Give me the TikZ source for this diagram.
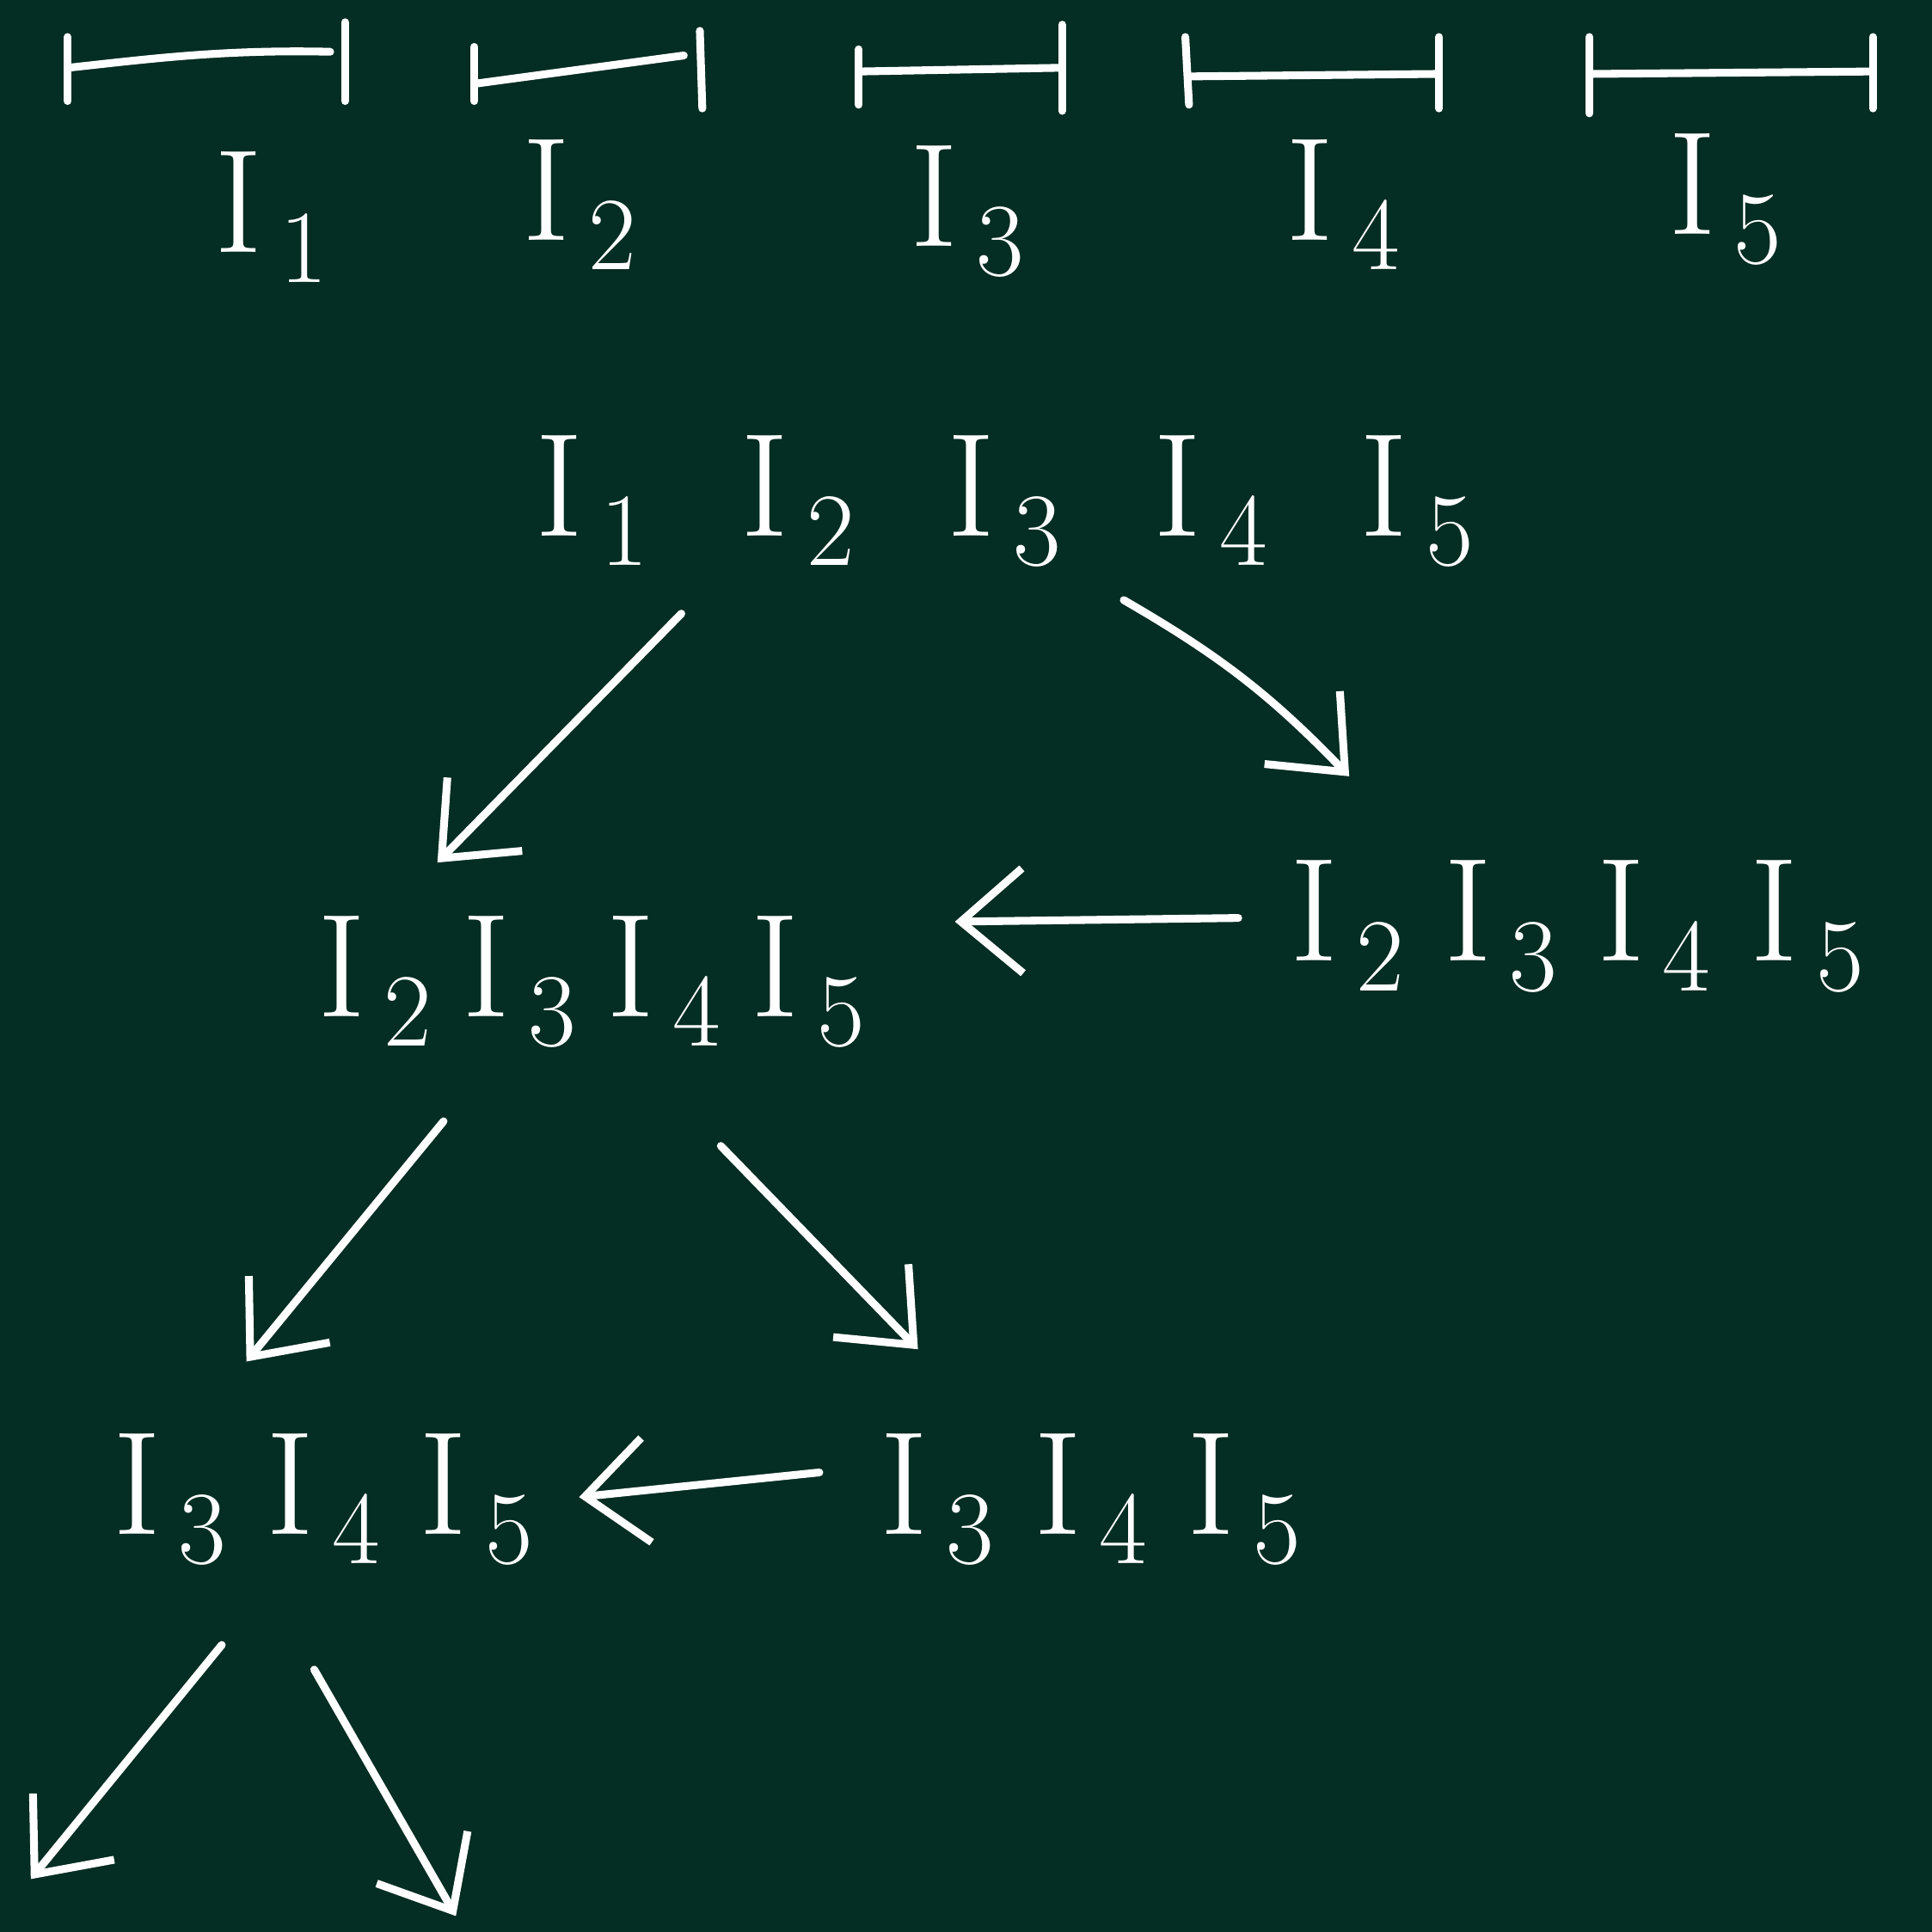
\documentclass[tikz,border=0pt]{standalone}
\usepackage{fontspec}
\usetikzlibrary{arrows.meta}
\definecolor{board}{RGB}{4,45,35}
\newcommand{\Iv}[1]{I\kern0.12em\raisebox{-0.2em}{\fontsize{24}{28}\selectfont #1}}
\newcommand{\gw}{\hspace{0.75cm}}
\newcommand{\gn}{\hspace{0.32cm}}
\begin{document}
\begin{tikzpicture}[x=0.01cm,y=-0.01cm,
  chalk/.style={draw=white,line width=1.8pt,line cap=round,line join=round},
  arr/.style={chalk,-{Straight Barb[length=0.5cm,width=0.85cm,line width=1.8pt]}},
  lbl/.style={text=white,inner sep=0pt,anchor=base,font=\fontsize{34}{40}\selectfont}]
\fill[board] (0,0) rectangle (1568,1568);
\useasboundingbox (0,0) rectangle (1568,1568);
% intervals
\draw[chalk] (55,30) -- (55,82);
\draw[chalk] (55,55) .. controls (120,48) and (180,40) .. (268,42);
\draw[chalk] (280,18) -- (280,82);
\draw[chalk] (385,38) -- (385,82);
\draw[chalk] (385,68) -- (555,45);
\draw[chalk] (568,25) -- (570,88);
\draw[chalk] (697,40) -- (697,85);
\draw[chalk] (697,58) -- (860,55);
\draw[chalk] (862,20) -- (862,90);
\draw[chalk] (962,30) -- (965,85);
\draw[chalk] (965,62) -- (1165,60);
\draw[chalk] (1168,30) -- (1168,88);
\draw[chalk] (1290,30) -- (1290,92);
\draw[chalk] (1290,60) -- (1518,58);
\draw[chalk] (1520,30) -- (1520,88);
% interval labels
\node[lbl] (i1) at (220,205) {\Iv1};
\node[lbl] (i2) at (470,195) {\Iv2};
\node[lbl] (i3) at (785,200) {\Iv3};
\node[lbl] (i4) at (1090,195) {\Iv4};
\node[lbl] (i5) at (1400,190) {\Iv5};
% tree nodes
\node[lbl] (root) at (815,435) {\Iv1\gw\Iv2\gw\Iv3\gw\Iv4\gw\Iv5};
\node[lbl] (L1) at (480,825) {\Iv2\hspace{0.25cm}\Iv3\hspace{0.25cm}\Iv4\hspace{0.25cm}\Iv5};
\node[lbl] (R1) at (1280,780) {\Iv2\gn\Iv3\gn\Iv4\gn\Iv5};
\node[lbl] (L2a) at (262,1245) {\Iv3\gn\Iv4\gn\Iv5};
\node[lbl] (L2b) at (885,1245) {\Iv3\gn\Iv4\gn\Iv5};
\coordinate (f1) at (25,1525);
\coordinate (f2) at (370,1555);
% connectors
\draw[arr] ([shift={(-262,63)}]root.base) -- ([shift={(-125,-125)}]L1.base);
\draw[arr] ([shift={(97,52)}]root.base) to[bend left=8] ([shift={(-185,-150)}]R1.base);
\draw[arr] ([shift={(-275,-35)}]R1.base) -- ([shift={(295,-77)}]L1.base);
\draw[arr] ([shift={(-120,85)}]L1.base) -- ([shift={(-62,-140)}]L2a.base);
\draw[arr] ([shift={(105,105)}]L1.base) -- ([shift={(-140,-150)}]L2b.base);
\draw[arr] ([shift={(-220,-50)}]L2b.base) -- ([shift={(208,-30)}]L2a.base);
\draw[arr] ([shift={(-82,90)}]L2a.base) -- (f1);
\draw[arr] ([shift={(-7,110)}]L2a.base) -- (f2);
\end{tikzpicture}
\end{document}
